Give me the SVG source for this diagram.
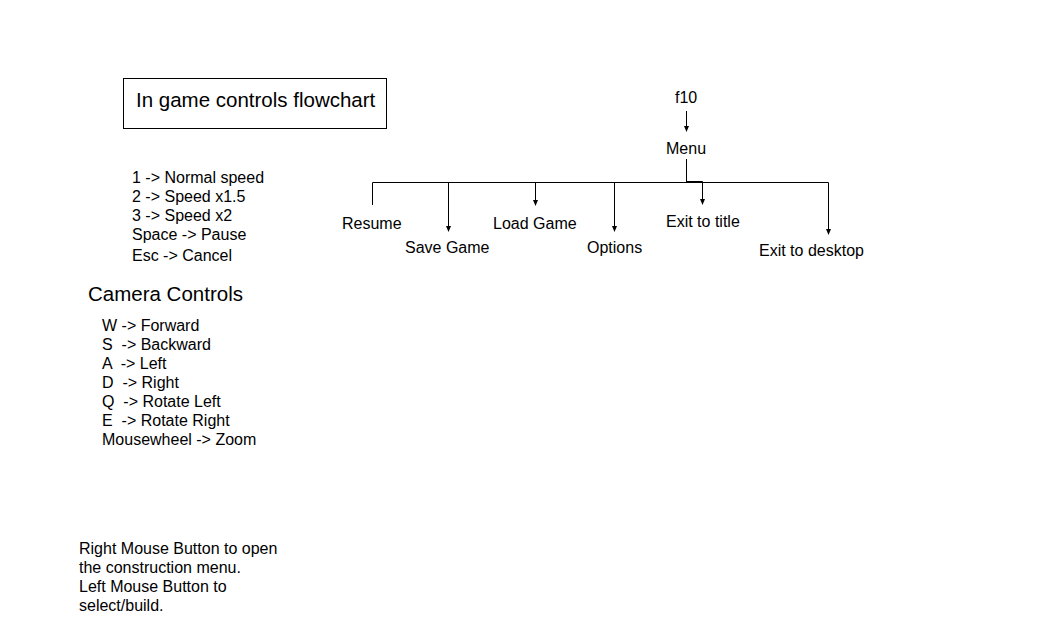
<svg xmlns="http://www.w3.org/2000/svg" width="1059" height="639" viewBox="0 0 1059 639">
<style>
text{font-family:"Liberation Sans",Arial,sans-serif;fill:#000;font-size:16px;white-space:pre}
.big{font-size:20.5px}
.ln{stroke:#000;stroke-width:1;fill:none}
</style>
<defs>
<marker id="ah" markerWidth="6" markerHeight="6" refX="5" refY="3" orient="auto" markerUnits="userSpaceOnUse">
<path d="M0,0.5 L6,3 L0,5.5 Z" fill="#000"/>
</marker>
</defs>
<rect width="1059" height="639" fill="#fff"/>
<g id="title">
<rect x="123.5" y="78.5" width="263" height="50" class="ln"/>
<text class="big" x="136" y="107">In game controls flowchart</text>
</g>
<g id="speed-controls">
<text x="132" y="183">1 -&gt; Normal speed</text>
<text x="132" y="202">2 -&gt; Speed x1.5</text>
<text x="132" y="221">3 -&gt; Speed x2</text>
<text x="132" y="240">Space -&gt; Pause</text>
<text x="132" y="261">Esc -&gt; Cancel</text>
</g>
<g id="camera-controls">
<text class="big" x="88" y="301">Camera Controls</text>
<text x="102" y="331" xml:space="preserve">W -&gt; Forward</text>
<text x="102" y="350" xml:space="preserve">S  -&gt; Backward</text>
<text x="102" y="369" xml:space="preserve">A  -&gt; Left</text>
<text x="102" y="388" xml:space="preserve">D  -&gt; Right</text>
<text x="102" y="407" xml:space="preserve">Q  -&gt; Rotate Left</text>
<text x="102" y="426" xml:space="preserve">E  -&gt; Rotate Right</text>
<text x="102" y="445" xml:space="preserve">Mousewheel -&gt; Zoom</text>
</g>
<g id="mouse-notes">
<text x="79" y="554">Right Mouse Button to open</text>
<text x="79" y="573">the construction menu.</text>
<text x="79" y="592">Left Mouse Button to</text>
<text x="79" y="611">select/build.</text>
</g>
<g id="f10"><text x="675" y="103">f10</text></g>
<g id="menu"><text x="666" y="154">Menu</text></g>
<g id="resume"><text x="342" y="229">Resume</text></g>
<g id="save-game"><text x="405" y="253">Save Game</text></g>
<g id="load-game"><text x="493" y="229">Load Game</text></g>
<g id="options"><text x="587" y="253">Options</text></g>
<g id="exit-title"><text x="666" y="227">Exit to title</text></g>
<g id="exit-desktop"><text x="759" y="256">Exit to desktop</text></g>
<g id="connectors" class="ln">
<line x1="686.5" y1="111" x2="686.5" y2="131" marker-end="url(#ah)"/>
<polyline points="686.5,159 686.5,182.5"/>
<polyline points="686.5,181.5 702.5,181.5 702.5,204" marker-end="url(#ah)"/>
<polyline points="372.5,205 372.5,182.5 828.5,182.5 828.5,234" marker-end="url(#ah)"/>
<line x1="448.5" y1="182.5" x2="448.5" y2="231" marker-end="url(#ah)"/>
<line x1="535.5" y1="182.5" x2="535.5" y2="205" marker-end="url(#ah)"/>
<line x1="614.5" y1="182.5" x2="614.5" y2="231" marker-end="url(#ah)"/>
</g>
</svg>
